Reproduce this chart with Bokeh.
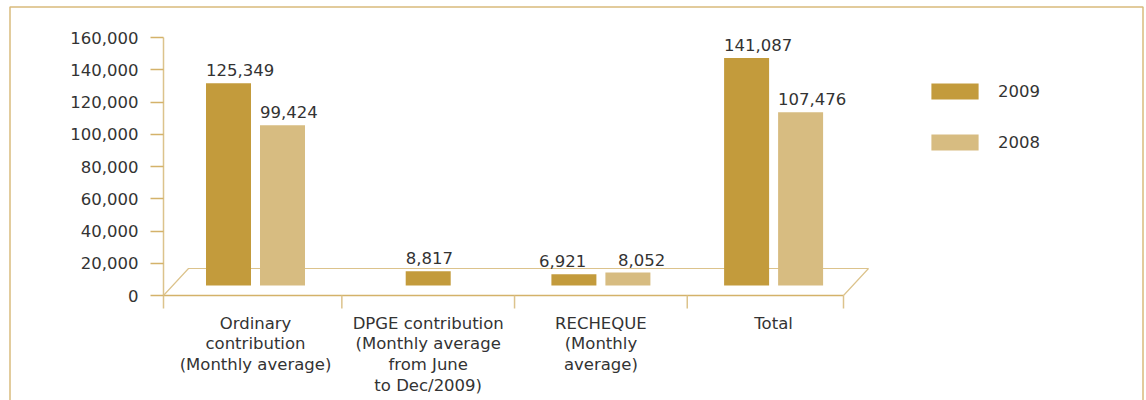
from bokeh.plotting import figure
from bokeh.models import (Range1d, LinearAxis, FixedTicker, NumeralTickFormatter,
                          ColumnDataSource, Legend, LegendItem)
from bokeh.core.properties import value
from bokeh.embed import file_html
from bokeh.resources import INLINE

# ---------------- data ----------------
categories = [
    "Ordinary\ncontribution\n(Monthly average)",
    "DPGE contribution\n(Monthly average\nfrom June\nto Dec/2009)",
    "RECHEQUE\n(Monthly\naverage)",
    "Total",
]
series_names = ["2009", "2008"]
values_2009 = [125349, 8817, 6921, 141087]
values_2008 = [99424, None, 8052, 107476]
y_ticks = [0, 20000, 40000, 60000, 80000, 100000, 120000, 140000, 160000]

# ---------------- style / layout ----------------
W, H = 1146, 400
FONT = "DejaVu Sans"
FS = "16.5px"
TXT = "#333333"
C09 = "#c39b3c"
C08 = "#d7bc81"
LINE = "#d4b26a"
AXLINE = "#dcc38c"
BORDER = "#d9bb7c"

y0_px, ytop_px = 295, 37
ymax = y_ticks[-1]
upp = ymax / (y0_px - ytop_px)          # value units per pixel
y_start = -(H - y0_px) * upp
y_end = ymax + ytop_px * upp
def px_y(py):
    return (y0_px - py) * upp

cat0_px, step_px = 255, 172.7
def px_x(px):
    return (px - cat0_px) / step_px
x_start = px_x(0)
x_end = px_x(W)

fl, fr = px_x(163), px_x(843)           # floor front edges
ddx = 25 / step_px                      # floor depth (x)
ddy = 27 * upp                          # floor depth (y)
base = 10 * upp                         # bars stand mid-depth
bw = 45 / step_px
dodge = 27 / step_px
spread = 12.5 / step_px                 # push apart labels that sit side by side

p = figure(width=W, height=H, x_range=Range1d(x_start, x_end), y_range=Range1d(y_start, y_end),
           min_border=0, min_border_left=0, min_border_right=0, min_border_top=0, min_border_bottom=0,
           output_backend="svg", toolbar_location=None, title=None,
           x_axis_location=None, y_axis_location=None, outline_line_color=None,
           background_fill_color="white", border_fill_color="white")
p.grid.visible = False

# outer border (open at the bottom, runs past the window)
bx0, bx1 = px_x(9.5), px_x(W - 3.5)
btop, bbot = px_y(6.5), px_y(H + 20)
p.line(x=[bx0, bx0, bx1, bx1], y=[bbot, btop, btop, bbot], line_color=BORDER, line_width=1.5)

# floor
p.line(x=[fl, fl + ddx, fr + ddx, fr], y=[0, ddy, ddy, 0], line_color=AXLINE, line_width=1.2)
p.line(x=[fl, fr], y=[0, 0], line_color=LINE, line_width=1.5)
n = len(categories)
seps = [fl] + [i + 0.5 for i in range(n - 1)] + [fr]
p.segment(x0=seps, x1=seps, y0=[0] * len(seps), y1=[-13 * upp] * len(seps),
          line_color=AXLINE, line_width=1.5)

# bars
def build(vals, sign):
    xs, tops, bots, lx, labels = [], [], [], [], []
    for i, v in enumerate(vals):
        if v is None:
            continue
        a, b = values_2009[i], values_2008[i]
        paired = a is not None and b is not None
        x = i + sign * dodge if paired else i
        shift = 0.0
        if paired and abs(a - b) / upp < 20:   # labels at same height: spread them
            shift = sign * spread
        xs.append(x)
        tops.append(base + v)
        bots.append(base)
        lx.append(x - bw / 2 + shift)
        labels.append(f"{v:,}")
    return ColumnDataSource(dict(x=xs, top=tops, bottom=bots, lx=lx, label=labels))

src09 = build(values_2009, -1)
src08 = build(values_2008, +1)
r09 = p.vbar(x="x", top="top", bottom="bottom", width=bw, source=src09, fill_color=C09, line_color=None)
r08 = p.vbar(x="x", top="top", bottom="bottom", width=bw, source=src08, fill_color=C08, line_color=None)
for s in (src09, src08):
    p.text(x="lx", y="top", text="label", source=s, text_font=value(FONT), text_font_size=FS,
           text_color=TXT, text_align="left", text_baseline="alphabetic", y_offset=-13)

# y axis
yax = LinearAxis(fixed_location=fl, bounds=(0, ymax), ticker=FixedTicker(ticks=y_ticks),
                 formatter=NumeralTickFormatter(format="0,0"),
                 axis_line_color=AXLINE, axis_line_width=1.5,
                 major_tick_line_color=LINE, major_tick_line_width=1.5,
                 major_tick_out=13, major_tick_in=0, minor_tick_line_color=None,
                 major_label_standoff=12, major_label_text_font=FONT,
                 major_label_text_font_size=FS, major_label_text_color=TXT)
p.add_layout(yax, "left")

# x axis (category labels)
xax = LinearAxis(fixed_location=0, ticker=FixedTicker(ticks=list(range(n))),
                 major_label_overrides={i: c for i, c in enumerate(categories)},
                 axis_line_color=None, major_tick_line_color=None, minor_tick_line_color=None,
                 major_tick_out=0, major_tick_in=0, major_label_standoff=18,
                 major_label_text_font=FONT, major_label_text_font_size=FS,
                 major_label_text_color=TXT, major_label_text_line_height=1.1)
p.add_layout(xax, "below")

# legend
legend = Legend(items=[LegendItem(label=series_names[0], renderers=[r09]),
                       LegendItem(label=series_names[1], renderers=[r08])],
                location=(925, 248), orientation="vertical",
                glyph_width=59, glyph_height=20, label_height=20, label_standoff=14,
                spacing=31, padding=0, margin=0, border_line_color=None, background_fill_alpha=0,
                label_text_font=FONT, label_text_font_size=FS, label_text_color=TXT)
p.add_layout(legend)

open("out.html", "w").write(file_html(p, INLINE))
